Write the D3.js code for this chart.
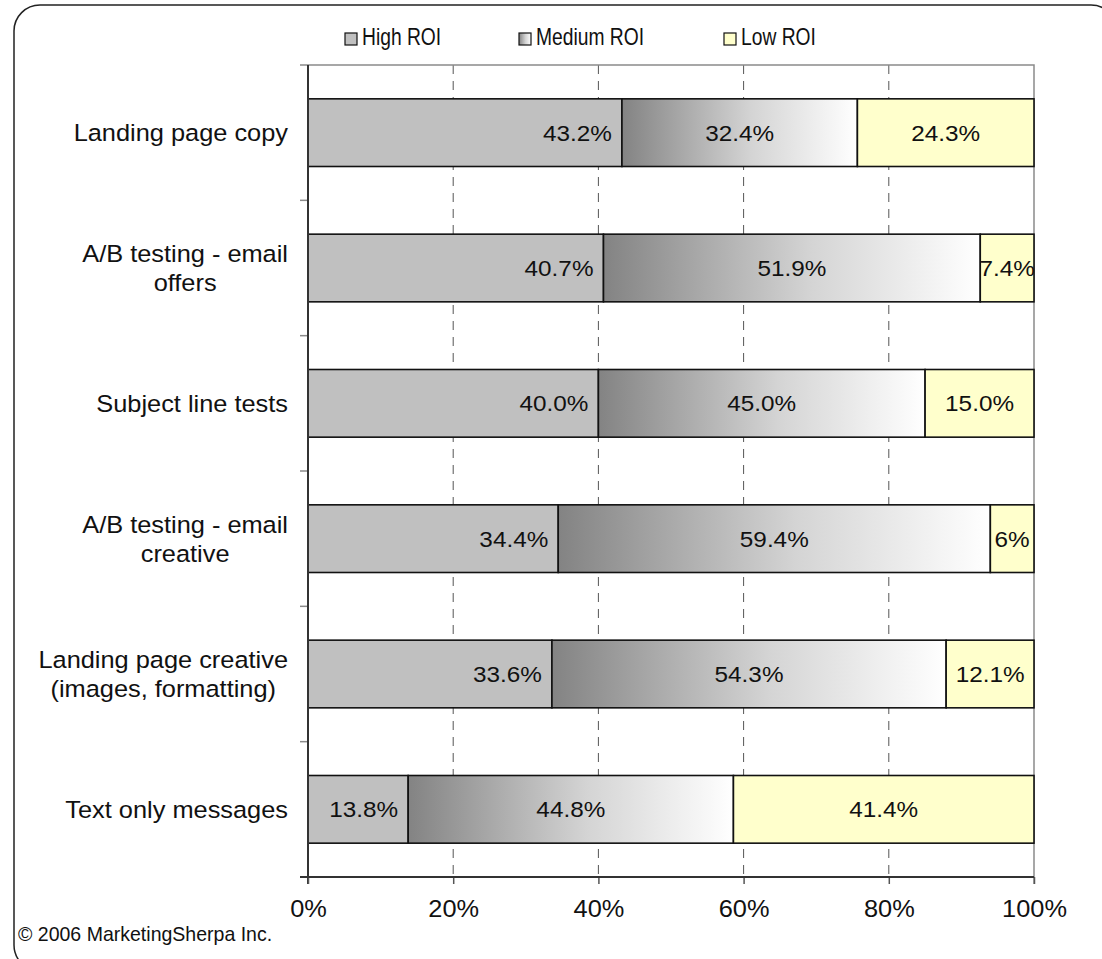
<!DOCTYPE html>
<html>
<head>
<meta charset="utf-8">
<script src="https://cdn.jsdelivr.net/npm/d3@7"></script>
<style>
    body { margin: 0; background: #fff; }
    svg { display: block; font-family: Arial, "Liberation Sans", sans-serif; }
</style>
</head>
<body>
<svg id="chart" width="1102" height="959"></svg>
<script>
/**
 * ROI of testing tactics, 100% stacked horizontal bars.
 * Kept as text so the label keeps its printed precision.
 */
const categories = [
    ['Landing page copy'],
    ['A/B testing - email', 'offers'],
    ['Subject line tests'],
    ['A/B testing - email', 'creative'],
    ['Landing page creative', '(images, formatting)'],
    ['Text only messages']
];
const seriesNames = ['High ROI', 'Medium ROI', 'Low ROI'];
const highROI = ['43.2', '40.7', '40.0', '34.4', '33.6', '13.8'];
const mediumROI = ['32.4', '51.9', '45.0', '59.4', '54.3', '44.8'];
const lowROI = ['24.3', '7.4', '15.0', '6', '12.1', '41.4'];
const xTicks = [0, 0.2, 0.4, 0.6, 0.8, 1];

/**
 * Visual configs.
 */
const plot = { left: 308, right: 1034, top: 65, bottom: 877 },
    fontSize = 22.5,
    stretch = 1.08;

const svg = d3.select('#chart');

// Gradient for the medium series
const defs = svg.append('defs');
const grad = defs.append('linearGradient').attr('id', 'medGrad')
    .attr('x1', '0%').attr('x2', '100%').attr('y1', '0%').attr('y2', '0%');
grad.append('stop').attr('offset', '0%').attr('stop-color', '#838383');
grad.append('stop').attr('offset', '55%').attr('stop-color', '#d4d4d4');
grad.append('stop').attr('offset', '100%').attr('stop-color', '#ffffff');

const fills = ['#c0c0c0', 'url(#medGrad)', '#ffffcc'];

// Frame
svg.append('rect')
    .attr('x', 14).attr('y', 5).attr('width', 1103).attr('height', 966).attr('rx', 26)
    .attr('fill', 'none').attr('stroke', '#222').attr('stroke-width', 1.5);

/**
 * Data.
 */
const rows = categories.map((c, i) => ({
    id: i,
    lines: c,
    high: +highROI[i], medium: +mediumROI[i], low: +lowROI[i],
    labels: [highROI[i] + '%', mediumROI[i] + '%', lowROI[i] + '%']
}));
const keys = ['high', 'medium', 'low'];
const stacked = d3.stack().keys(keys).offset(d3.stackOffsetExpand)(rows);

const x = d3.scaleLinear().domain([0, 1]).range([plot.left, plot.right]);
const y = d3.scaleBand().domain(rows.map(d => d.id)).range([plot.top, plot.bottom])
    .paddingInner(0.5).paddingOuter(0.25);

// Grid lines
svg.append('g').selectAll('line').data(xTicks.slice(1, -1)).join('line')
    .attr('x1', d => x(d)).attr('x2', d => x(d))
    .attr('y1', plot.top).attr('y2', plot.bottom)
    .attr('stroke', '#555').attr('stroke-width', 1).attr('stroke-dasharray', '9,7');

// Plot border (top and right)
svg.append('path')
    .attr('d', `M${plot.left},${plot.top}H${plot.right}V${plot.bottom + 7}`)
    .attr('fill', 'none').attr('stroke', '#8a8a8a').attr('stroke-width', 1.5);

// Bars
const layers = svg.append('g').selectAll('g').data(stacked).join('g')
    .attr('fill', (d, i) => fills[i]);
layers.selectAll('rect').data(d => d).join('rect')
    .attr('x', d => x(d[0]))
    .attr('width', d => x(d[1]) - x(d[0]))
    .attr('y', d => y(d.data.id))
    .attr('height', y.bandwidth())
    .attr('stroke', '#111').attr('stroke-width', 1.6);

// Bar labels
stacked.forEach((layer, si) => {
    svg.append('g').selectAll('text').data(layer).join('text')
        .attr('transform', d => {
            const tx = si === 0 ? x(d[1]) - 10 : (x(d[0]) + x(d[1])) / 2;
            return `translate(${tx},${y(d.data.id) + y.bandwidth() / 2 + 8}) scale(${stretch},1)`;
        })
        .attr('text-anchor', si === 0 ? 'end' : 'middle')
        .attr('font-size', fontSize)
        .attr('fill', '#111')
        .text(d => d.data.labels[si]);
});

// Y axis: line, ticks at band boundaries, category labels
const step = y.step();
const boundaries = d3.range(rows.length + 1).map(i => plot.top + i * step);
svg.append('g').selectAll('line').data(boundaries).join('line')
    .attr('x1', plot.left - 8).attr('x2', plot.left)
    .attr('y1', d => d).attr('y2', d => d)
    .attr('stroke', '#8a8a8a').attr('stroke-width', 1.5);
svg.append('line')
    .attr('x1', plot.left).attr('x2', plot.left)
    .attr('y1', plot.top).attr('y2', plot.bottom + 7)
    .attr('stroke', '#333').attr('stroke-width', 2);

const catLabels = svg.append('g').selectAll('g').data(rows).join('g')
    .attr('transform', d => `translate(288,${y(d.id) + y.bandwidth() / 2}) scale(${stretch},1)`);
catLabels.each(function(d) {
    const g = d3.select(this);
    const lineH = 29;
    const texts = g.selectAll('text').data(d.lines).join('text')
        .attr('font-size', fontSize + 1)
        .attr('fill', '#111')
        .attr('y', (l, i) => (i - (d.lines.length - 1) / 2) * lineH + 8.5)
        .text(l => l);
    const maxW = d3.max(texts.nodes(), n => n.getComputedTextLength());
    texts.attr('text-anchor', 'middle').attr('x', -maxW / 2);
});

// X axis
const xAxis = d3.axisBottom(x).tickValues(xTicks).tickFormat(d3.format('.0%')).tickSize(7).tickPadding(18);
const xAxisG = svg.append('g').attr('transform', `translate(0,${plot.bottom})`).call(xAxis);
xAxisG.select('.domain').remove();
xAxisG.append('line')
    .attr('x1', plot.left - 8).attr('x2', plot.right)
    .attr('stroke', '#333').attr('stroke-width', 2);
xAxisG.selectAll('.tick line').attr('stroke', '#555').attr('stroke-width', 1.5);
xAxisG.selectAll('.tick text')
    .attr('font-size', fontSize + 1)
    .attr('font-family', 'Arial, "Liberation Sans", sans-serif')
    .attr('fill', '#111')
    .attr('transform', `scale(${stretch},1)`)
    .attr('dy', 0).attr('y', 40);

// Legend
const legendX = [345, 519, 724];
const legend = svg.append('g').selectAll('g').data(seriesNames).join('g')
    .attr('transform', (d, i) => `translate(${legendX[i]},33)`);
legend.append('rect')
    .attr('width', 12).attr('height', 12)
    .attr('fill', (d, i) => fills[i])
    .attr('stroke', '#111').attr('stroke-width', 1.2);
legend.append('text')
    .attr('transform', 'translate(17,12) scale(0.82,1)')
    .attr('font-size', 23.5)
    .attr('fill', '#111')
    .text(d => d);

// Copyright
svg.append('text')
    .attr('transform', 'translate(18,941) scale(0.93,1)')
    .attr('font-size', 21)
    .attr('fill', '#111')
    .text('© 2006 MarketingSherpa Inc.');
</script>
</body>
</html>
